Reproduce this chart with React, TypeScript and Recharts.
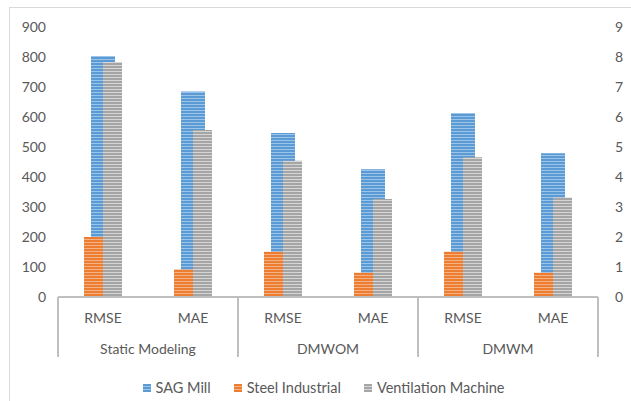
import { BarChart, Bar, XAxis, YAxis, Legend } from 'recharts'

const categories = ['RMSE', 'MAE', 'RMSE', 'MAE', 'RMSE', 'MAE']
const groups = ['Static Modeling', 'DMWOM', 'DMWM']
const sagMill = [803, 685, 547, 426, 613, 479]
const steelIndustrial = [2.0, 0.92, 1.51, 0.81, 1.51, 0.81]
const ventilationMachine = [7.83, 5.57, 4.54, 3.27, 4.66, 3.32]
const leftTicks = [0, 100, 200, 300, 400, 500, 600, 700, 800, 900]
const rightTicks = [0, 1, 2, 3, 4, 5, 6, 7, 8, 9]

const data = categories.map((cat, i) => ({
  key: `${cat}-${i}`,
  cat,
  sag: sagMill[i],
  steel: steelIndustrial[i],
  vent: ventilationMachine[i],
}))

const WIDTH = 631
const HEIGHT = 401
const LEFT = 58
const RIGHT = 33
const HALF_BAND = (WIDTH - LEFT - RIGHT) / categories.length / 2
const TEXT = '#595959'
const FONT = 'Lato, "Open Sans", sans-serif'

const SERIES = [
  { key: 'sag', name: 'SAG Mill', base: '#5b9bd5', stripe: '#9dc3e6' },
  { key: 'steel', name: 'Steel Industrial', base: '#ed7d31', stripe: '#f4b183' },
  { key: 'vent', name: 'Ventilation Machine', base: '#a5a5a5', stripe: '#d6d6d6' },
]

function Stripes() {
  return (
    <defs>
      {SERIES.map((s) => (
        <pattern key={s.key} id={`stripe-${s.key}`} width={4} height={3} patternUnits="userSpaceOnUse">
          <rect width={4} height={3} fill={s.base} />
          <rect y={2} width={4} height={1} fill={s.stripe} />
        </pattern>
      ))}
    </defs>
  )
}

function GroupTick(props: any) {
  const { x, y, payload } = props
  const i = payload.index
  return (
    <g>
      <text x={x} y={y + 26} textAnchor="middle" fill={TEXT} fontSize={14} fontFamily={FONT}>
        {payload.value}
      </text>
      {i % 2 === 0 && (
        <>
          <line x1={x - HALF_BAND} x2={x - HALF_BAND} y1={y} y2={y + 60} stroke="#bfbfbf" strokeWidth={2} />
          <text x={x + HALF_BAND} y={y + 57} textAnchor="middle" fill={TEXT} fontSize={14} fontFamily={FONT}>
            {groups[i / 2]}
          </text>
        </>
      )}
      {i === categories.length - 1 && (
        <line x1={x + HALF_BAND} x2={x + HALF_BAND} y1={y} y2={y + 60} stroke="#bfbfbf" strokeWidth={2} />
      )}
    </g>
  )
}

function LegendContent() {
  return (
    <div
      style={{
        height: 44,
        paddingTop: 17,
        paddingLeft: 16,
        boxSizing: 'border-box',
        display: 'flex',
        justifyContent: 'center',
        gap: 23,
        fontFamily: FONT,
        fontSize: 14.5,
        color: TEXT,
        lineHeight: '16px',
      }}
    >
      {SERIES.map((s) => (
        <span key={s.key} style={{ display: 'flex', alignItems: 'center', gap: 5 }}>
          <svg width={8} height={8}>
            <rect width={8} height={8} fill={s.base} />
            <rect y={2} width={8} height={1} fill={s.stripe} />
            <rect y={5} width={8} height={1} fill={s.stripe} />
          </svg>
          {s.name}
        </span>
      ))}
    </div>
  )
}

export default function App() {
  return (
    <div style={{ position: 'absolute', left: 0, top: 0, width: WIDTH, height: HEIGHT, background: '#fff', overflow: 'hidden' }}>
      <div style={{ position: 'absolute', left: 9, top: 7, width: 640, height: 420, border: '1px solid #d9d9d9' }} />
      <BarChart
        width={WIDTH}
        height={HEIGHT}
        data={data}
        margin={{ top: 27, right: 0, bottom: 0, left: 0 }}
        barGap={0}
        style={{ position: 'absolute', left: 0, top: 0 }}
      >
        <Stripes />
        <XAxis xAxisId="sag" dataKey="key" hide />
        <XAxis
          xAxisId="pair"
          dataKey="key"
          height={60}
          interval={0}
          tickLine={false}
          tickSize={0}
          tickMargin={0}
          axisLine={{ stroke: '#bfbfbf', strokeWidth: 2 }}
          tick={(p: any) => <GroupTick {...p} payload={{ ...p.payload, value: categories[p.payload.index] }} />}
        />
        <YAxis
          yAxisId="left"
          width={LEFT}
          domain={[0, 900]}
          ticks={leftTicks}
          axisLine={false}
          tickLine={false}
          tickMargin={6}
          tick={{ fill: TEXT, fontSize: 14, fontFamily: FONT }}
        />
        <YAxis
          yAxisId="right"
          orientation="right"
          width={RIGHT}
          domain={[0, 9]}
          ticks={rightTicks}
          axisLine={false}
          tickLine={false}
          tickMargin={11}
          tick={{ fill: TEXT, fontSize: 14, fontFamily: FONT, textAnchor: 'start' }}
        />
        <Bar xAxisId="sag" yAxisId="left" dataKey="sag" name="SAG Mill" barSize={24} fill="url(#stripe-sag)" isAnimationActive={false} />
        <Bar xAxisId="pair" yAxisId="right" dataKey="steel" name="Steel Industrial" barSize={19} fill="url(#stripe-steel)" isAnimationActive={false} />
        <Bar xAxisId="pair" yAxisId="right" dataKey="vent" name="Ventilation Machine" barSize={19} fill="url(#stripe-vent)" isAnimationActive={false} />
        <Legend verticalAlign="bottom" height={44} content={<LegendContent />} />
      </BarChart>
    </div>
  )
}
